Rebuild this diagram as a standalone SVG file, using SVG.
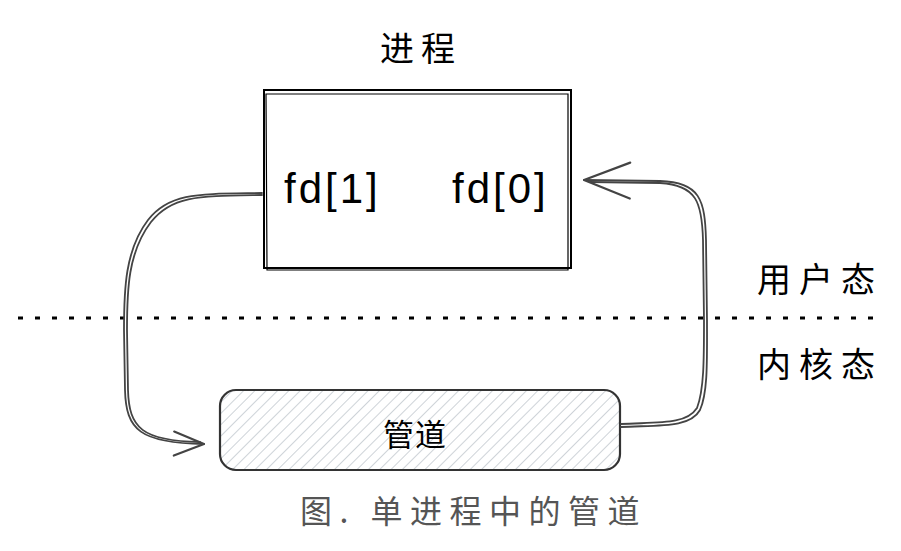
<svg xmlns="http://www.w3.org/2000/svg" width="901" height="551" viewBox="0 0 901 551">
<defs>
<pattern id="hatch" patternUnits="userSpaceOnUse" width="8" height="8" patternTransform="rotate(45)">
<line x1="0" y1="0" x2="0" y2="8" stroke="#adb5bd" stroke-width="1.2"/>
</pattern>
<marker id="arrL" viewBox="0 0 34 30" refX="32" refY="15" markerWidth="34" markerHeight="30" markerUnits="userSpaceOnUse" orient="auto">
<path d="M2 3 L32 15 L2 27" fill="none" stroke="#444" stroke-width="2.2" stroke-linecap="round" stroke-linejoin="round"/>
</marker>
<marker id="arrR" viewBox="0 0 50 40" refX="48" refY="20" markerWidth="50" markerHeight="40" markerUnits="userSpaceOnUse" orient="auto">
<path d="M2 2 L48 20 L2 38" fill="none" stroke="#444" stroke-width="2.2" stroke-linecap="round" stroke-linejoin="round"/>
</marker>
</defs>
<style>
.lbl{font-family:"Liberation Sans","Noto Sans CJK SC",sans-serif;font-size:42px;letter-spacing:3px;fill:#000;}
.cn{font-family:"Noto Sans CJK SC",sans-serif;font-size:34px;fill:#000;}
.conn{fill:none;stroke:#444;stroke-width:1.8;stroke-linecap:round;}
</style>
<rect width="901" height="551" fill="#fff"/>
<g id="title"><text class="cn" x="380" y="61" style="letter-spacing:7px">进程</text></g>
<g id="process">
<rect x="264" y="90" width="307" height="178" fill="none" stroke="#000" stroke-width="2"/>
<path d="M266 94 L568 94 L568 270 L267 270 Z" fill="none" stroke="#000" stroke-width="1.2"/>
<text class="lbl" x="284" y="203">fd[1]</text>
<text class="lbl" x="452" y="203">fd[0]</text>
</g>
<g id="divider">
<line x1="18" y1="318" x2="880" y2="318" stroke="#000" stroke-width="3" stroke-dasharray="5 12"/>
</g>
<g id="user-label"><text class="cn" x="757" y="292" style="letter-spacing:8px">用户态</text></g>
<g id="kernel-label"><text class="cn" x="757" y="377" style="letter-spacing:8px">内核态</text></g>
<g id="pipe">
<rect x="220" y="390" width="400" height="80" rx="16" fill="url(#hatch)" stroke="#333" stroke-width="2.2"/>
<text class="cn" x="383" y="446" style="font-size:31px;letter-spacing:1px">管道</text>
</g>
<g id="connectors">
<path class="conn" d="M262 193 C200 194 170 192 148 220 C125 250 124 290 124 330 L125 390 C126 430 140 443 204 444" marker-end="url(#arrL)"/>
<path class="conn" d="M262 195 C200 196 172 195 151 222 C128 252 127 290 127 330 L128 390 C129 428 142 441 200 442" stroke-width="1"/>
<path class="conn" d="M621 427 C660 425 690 428 700 410 C708 392 707 360 707 320 L706 240 C705 200 700 182 660 181 L584 180" marker-end="url(#arrR)"/>
<path class="conn" d="M621 424 C658 422 686 425 697 408 C704 390 704 360 704 320 L703 240 C702 203 697 185 660 183 L590 182" stroke-width="1"/>
</g>
<g id="caption"><text class="cn" x="300" y="523" style="fill:#555;font-size:32px;letter-spacing:7.5px">图. 单进程中的管道</text></g>
</svg>
